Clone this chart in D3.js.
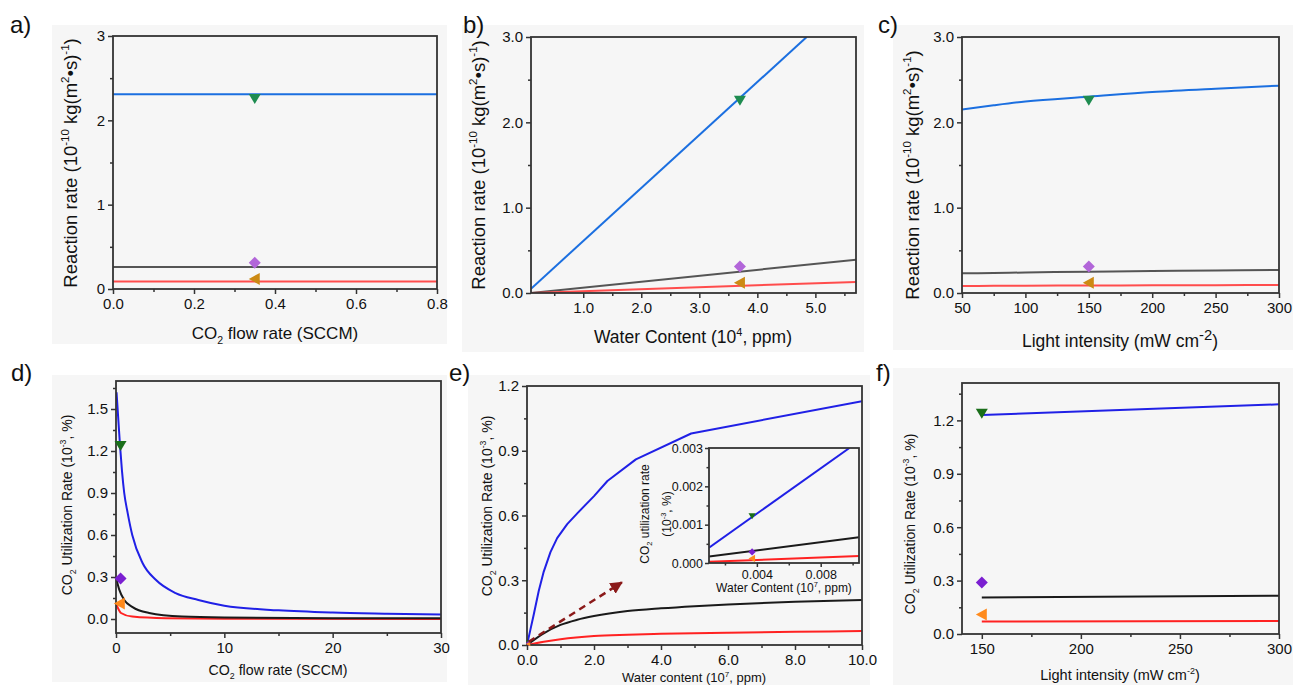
<!DOCTYPE html>
<html><head><meta charset="utf-8">
<script src="https://cdn.jsdelivr.net/npm/d3@7"></script>
<style>
body{margin:0;background:#fff;}
text{font-family:"Liberation Sans",Arial,Helvetica,sans-serif;fill:#111;}
</style>
</head><body>
<script>
// ---------------- DATA ----------------
// a) Reaction rate vs CO2 flow rate
const flowA = [0.0, 0.8];
const rateA_blue = [2.31, 2.31];
const rateA_gray = [0.26, 0.26];
const rateA_red  = [0.088, 0.088];
const expA_x = 0.35;
// experimental points (top row): [green, purple, orange]
const expRate = [2.26, 0.31, 0.12];

// b) Reaction rate vs water content (10^4 ppm)
const waterB_blue = [0.1, 4.85];
const rateB_blue  = [0.05, 3.0];
const waterB = [0.1, 5.7];
const rateB_gray = [0.0, 0.39];
const rateB_red  = [0.0, 0.13];
const expB_x = 3.7;

// c) Reaction rate vs light intensity
const lightC = [50, 75, 100, 150, 200, 250, 300];
const rateC_blue = [2.15, 2.20, 2.245, 2.30, 2.355, 2.395, 2.43];
const rateC_gray = [0.23, 0.235, 0.24, 0.25, 0.258, 0.265, 0.27];
const rateC_red  = [0.082, 0.084, 0.086, 0.088, 0.09, 0.092, 0.094];
const expC_x = 150;

// d) CO2 utilization rate vs CO2 flow rate
const flowD_blue = [0.05, 0.2, 0.37, 0.55, 0.76, 1.07, 1.5, 2.45, 3.67, 5.5, 7.6, 10, 15, 20, 25, 30];
const utilD_blue = [1.62, 1.44, 1.24, 1.06, 0.9, 0.76, 0.6, 0.4, 0.28, 0.185, 0.136, 0.095, 0.062, 0.046, 0.038, 0.032];
const flowD_black = [0.05, 0.3, 0.76, 1.53, 3.06, 6.1, 10, 20, 30];
const utilD_black = [0.28, 0.21, 0.136, 0.085, 0.043, 0.017, 0.01, 0.006, 0.005];
const flowD_red = [0.05, 0.46, 1.5, 4.6, 10, 30];
const utilD_red = [0.1, 0.043, 0.017, 0.005, 0.002, 0.0];
const expD_x = [0.42, 0.42, 0.35];
// experimental points (bottom row): [green, purple, orange]
const expUtil = [1.24, 0.29, 0.11];

// e) CO2 utilization rate vs water content (10^7 ppm)
const waterE_blue = [0, 0.1, 0.2, 0.35, 0.5, 0.7, 0.9, 1.2, 1.5, 2.0, 2.4, 3.25, 4.9, 10];
const utilE_blue  = [0, 0.07, 0.14, 0.25, 0.34, 0.43, 0.495, 0.56, 0.61, 0.69, 0.76, 0.86, 0.98, 1.13];
const waterE_black = [0, 0.5, 1, 1.5, 2, 3, 4, 5, 6, 8, 10];
const utilE_black  = [0, 0.054, 0.093, 0.117, 0.134, 0.157, 0.17, 0.18, 0.188, 0.2, 0.208];
const waterE_red = [0, 0.5, 1, 2, 3, 4, 6, 8, 10];
const utilE_red  = [0, 0.015, 0.027, 0.042, 0.048, 0.052, 0.057, 0.061, 0.065];
const arrowE = [[0.05, 0.015], [2.83, 0.29]];
// inset
const waterIn_blue = [0.001, 0.0098];
const utilIn_blue  = [0.0004, 0.003];
const waterIn = [0.001, 0.0104];
const utilIn_black = [0.00017, 0.00067];
const utilIn_red   = [0.00003, 0.00018];
const expIn_x = 0.0037;
const expIn = [0.00123, 0.00029, 0.00012];

// f) CO2 utilization rate vs light intensity
const lightF = [150, 300];
const utilF_blue  = [1.23, 1.29];
const utilF_black = [0.205, 0.215];
const utilF_red   = [0.07, 0.073];
const expF_x = 150;

// ticks
const ticksA_x = [0, 0.2, 0.4, 0.6, 0.8], minorA_x = [0.1, 0.3, 0.5, 0.7];
const ticksA_y = [0, 1, 2, 3], minorA_y = [0.5, 1.5, 2.5];
const ticksB_x = [1, 2, 3, 4, 5], minorB_x = [0.5, 1.5, 2.5, 3.5, 4.5, 5.5];
const ticksRate_y = [0, 1, 2, 3], minorRate_y = [0.5, 1.5, 2.5];
const ticksC_x = [50, 100, 150, 200, 250, 300], minorC_x = [75, 125, 175, 225, 275];
const ticksD_x = [0, 10, 20, 30], minorD_x = [5, 15, 25];
const ticksUtil_y = [0, 0.3, 0.6, 0.9, 1.2, 1.5], minorUtil_y = [0.15, 0.45, 0.75, 1.05, 1.35, 1.65];
const ticksE_x = [0, 2, 4, 6, 8, 10], minorE_x = [1, 3, 5, 7, 9];
const ticksE_y = [0, 0.3, 0.6, 0.9, 1.2], minorE_y = [0.15, 0.45, 0.75, 1.05];
const ticksIn_x = [0.004, 0.008], minorIn_x = [0.002, 0.006, 0.010];
const ticksIn_y = [0, 0.001, 0.002, 0.003], minorIn_y = [0.0005, 0.0015, 0.0025];
const ticksF_x = [150, 200, 250, 300], minorF_x = [175, 225, 275];
const ticksF_y = [0, 0.3, 0.6, 0.9, 1.2], minorF_y = [0.15, 0.45, 0.75, 1.05, 1.35];

// ---------------- DRAW ----------------
const W = 1293, H = 685;
const svg = d3.select('body').append('svg').attr('width', W).attr('height', H);
const defs = svg.append('defs');

const TOP = {blue:'#1b6fe0', gray:'#555555', red:'#ff4d4d', mg:'#1e8c50', mp:'#b266d9', mo:'#cc8a14'};
const BOT = {blue:'#2020e6', gray:'#1a1a1a', red:'#ff2222', mg:'#1a6e1a', mp:'#7b1fd1', mo:'#ff8a1c'};

// panel backgrounds
[[52,25,395,319],[462,25,402,327],[893,25,400,325],[52,375,395,307],[468,375,402,310],[893,368,400,317]]
  .forEach(r => svg.append('rect').attr('x',r[0]).attr('y',r[1]).attr('width',r[2]).attr('height',r[3]).attr('fill','#f6f6f6'));

function rich(g, parts, size, attrs) {
  const t = g.append('text').attr('font-size', size);
  Object.entries(attrs).forEach(([k,v]) => t.attr(k, v));
  let shift = 0;
  parts.forEach(p => {
    const s = p[0], k = p[1] || 'n';
    const sz = k === 'n' ? size : size * (p[2] || 0.62);
    const target = k === 'sup' ? -size * 0.42 : (k === 'sub' ? size * 0.28 : 0);
    t.append('tspan').attr('font-size', sz).attr('dy', (target - shift).toFixed(2)).text(s);
    shift = target;
  });
  return t;
}

let clipId = 0;
function panel(p) {
  const g = svg.append('g');
  const x = d3.scaleLinear().domain(p.xDomain).range([p.left, p.right]);
  const y = d3.scaleLinear().domain(p.yDomain).range([p.bottom, p.top]);
  g.append('rect').attr('x', p.left).attr('y', p.top).attr('width', p.right - p.left).attr('height', p.bottom - p.top).attr('fill', '#f6f6f6');
  const fs = p.tickFont || 15;
  const sw = p.frameW || 1.8;
  function styleAxis(sel) {
    sel.select('.domain').remove();
    sel.selectAll('line').attr('stroke', '#333').attr('stroke-width', 1.5);
    sel.selectAll('text').attr('font-size', fs).attr('fill', '#111').style('font-family', '"Liberation Sans",Arial,sans-serif');
  }
  const mt = p.majorLen || 5, mn = p.minorLen || 3;
  g.append('g').attr('transform', `translate(0,${p.bottom})`)
    .call(d3.axisBottom(x).tickValues(p.xTicks).tickFormat(p.xFmt).tickSize(mt).tickPadding(p.xPad || 4)).call(styleAxis);
  g.append('g').attr('transform', `translate(0,${p.bottom})`)
    .call(d3.axisBottom(x).tickValues(p.xMinor).tickFormat('').tickSize(mn)).call(styleAxis);
  g.append('g').attr('transform', `translate(${p.left},0)`)
    .call(d3.axisLeft(y).tickValues(p.yTicks).tickFormat(p.yFmt).tickSize(mt).tickPadding(p.yPad || 3)).call(styleAxis);
  g.append('g').attr('transform', `translate(${p.left},0)`)
    .call(d3.axisLeft(y).tickValues(p.yMinor).tickFormat('').tickSize(mn)).call(styleAxis);

  const id = 'clip' + (clipId++);
  defs.append('clipPath').attr('id', id).append('rect')
    .attr('x', p.left).attr('y', p.top).attr('width', p.right - p.left).attr('height', p.bottom - p.top);
  const lg = g.append('g').attr('clip-path', `url(#${id})`);
  p.series.forEach(s => {
    const pts = s.x.map((v, i) => [v, s.y[i]]);
    lg.append('path').datum(pts)
      .attr('d', d3.line().x(d => x(d[0])).y(d => y(d[1])).curve(s.curve || d3.curveLinear))
      .attr('fill', 'none').attr('stroke', s.color).attr('stroke-width', s.w || 2)
      .attr('stroke-linejoin', 'round');
  });
  g.append('rect').attr('x', p.left).attr('y', p.top).attr('width', p.right - p.left).attr('height', p.bottom - p.top)
    .attr('fill', 'none').attr('stroke', '#333').attr('stroke-width', sw);
  return {g, x, y};
}

function markers(P, xs, ys, col, sc) {
  sc = sc || 1;
  const shapes = [
    `M${-6*sc},${-4.5*sc} L${6*sc},${-4.5*sc} L0,${5.5*sc} Z`,
    `M0,${-6*sc} L${6*sc},0 L0,${6*sc} L${-6*sc},0 Z`,
    `M${-6*sc},0 L${5*sc},${-6*sc} L${5*sc},${6*sc} Z`
  ];
  const cols = [col.mg, col.mp, col.mo];
  ys.forEach((v, i) => {
    const xv = Array.isArray(xs) ? xs[i] : xs;
    P.g.append('path').attr('d', shapes[i]).attr('fill', cols[i])
      .attr('transform', `translate(${P.x(xv)},${P.y(v)})`);
  });
}

const f1 = d3.format('.1f'), fd = d3.format('d'), f3 = d3.format('.3f');

// ---- a ----
const A = panel({left:113, right:437, top:36, bottom:289, xDomain:[0,0.8], yDomain:[0,3],
  xTicks:ticksA_x, xMinor:minorA_x, yTicks:ticksA_y, yMinor:minorA_y, xFmt:f1, yFmt:fd,
  series:[{x:flowA, y:rateA_gray, color:TOP.gray}, {x:flowA, y:rateA_red, color:TOP.red}, {x:flowA, y:rateA_blue, color:TOP.blue}]});
markers(A, expA_x, expRate, TOP);
// ---- b ----
const B = panel({left:531, right:856, top:37, bottom:293, xDomain:[0.1,5.7], yDomain:[0,3],
  xTicks:ticksB_x, xMinor:minorB_x, yTicks:ticksRate_y, yMinor:minorRate_y, xFmt:f1, yFmt:f1,
  series:[{x:waterB, y:rateB_gray, color:TOP.gray}, {x:waterB, y:rateB_red, color:TOP.red}, {x:waterB_blue, y:rateB_blue, color:TOP.blue}]});
markers(B, expB_x, expRate, TOP);
// ---- c ----
const C = panel({left:962, right:1279, top:37, bottom:293, xDomain:[50,300], yDomain:[0,3],
  xTicks:ticksC_x, xMinor:minorC_x, yTicks:ticksRate_y, yMinor:minorRate_y, xFmt:fd, yFmt:f1,
  series:[{x:lightC, y:rateC_gray, color:TOP.gray, curve:d3.curveMonotoneX}, {x:lightC, y:rateC_red, color:TOP.red, curve:d3.curveMonotoneX}, {x:lightC, y:rateC_blue, color:TOP.blue, curve:d3.curveMonotoneX}]});
markers(C, expC_x, expRate, TOP);
// ---- d ----
const D = panel({left:116, right:441, top:381, bottom:633, xDomain:[0,30], yDomain:[-0.1,1.7],
  xTicks:ticksD_x, xMinor:minorD_x, yTicks:ticksUtil_y, yMinor:minorUtil_y, xFmt:fd, yFmt:f1,
  series:[{x:flowD_red, y:utilD_red, color:BOT.red, curve:d3.curveMonotoneX}, {x:flowD_black, y:utilD_black, color:BOT.gray, curve:d3.curveMonotoneX}, {x:flowD_blue, y:utilD_blue, color:BOT.blue, curve:d3.curveMonotoneX}]});
markers(D, expD_x, expUtil, BOT);
// ---- e ----
const E = panel({left:527, right:862, top:386, bottom:645, xDomain:[0,10], yDomain:[0,1.2],
  xTicks:ticksE_x, xMinor:minorE_x, yTicks:ticksE_y, yMinor:minorE_y, xFmt:f1, yFmt:f1,
  series:[{x:waterE_red, y:utilE_red, color:BOT.red, curve:d3.curveMonotoneX}, {x:waterE_black, y:utilE_black, color:BOT.gray, curve:d3.curveMonotoneX}, {x:waterE_blue, y:utilE_blue, color:BOT.blue}]});
// tiny markers at origin
markers(E, [0.04, 0.04, 0.04], [0.012, 0.008, 0.005], BOT, 0.4);
// dashed arrow
defs.append('marker').attr('id', 'ah').attr('viewBox', '0 0 10 10').attr('refX', 9).attr('refY', 5)
  .attr('markerWidth', 5).attr('markerHeight', 5).attr('orient', 'auto-start-reverse')
  .append('path').attr('d', 'M0,0 L10,5 L0,10 Z').attr('fill', '#8b1a1a');
E.g.append('line').attr('x1', E.x(arrowE[0][0])).attr('y1', E.y(arrowE[0][1]))
  .attr('x2', E.x(arrowE[1][0])).attr('y2', E.y(arrowE[1][1]))
  .attr('stroke', '#8b1a1a').attr('stroke-width', 2.5).attr('stroke-dasharray', '7,5')
  .attr('marker-end', 'url(#ah)');
// inset
const IN = panel({left:709, right:859, top:448, bottom:563, xDomain:[0.001,0.0104], yDomain:[0,0.003],
  xTicks:ticksIn_x, xMinor:minorIn_x, yTicks:ticksIn_y, yMinor:minorIn_y, xFmt:f3, yFmt:f3, tickFont:12.5,
  majorLen:4, minorLen:2.5, xPad:3, yPad:2,
  series:[{x:waterIn, y:utilIn_red, color:BOT.red}, {x:waterIn, y:utilIn_black, color:BOT.gray}, {x:waterIn_blue, y:utilIn_blue, color:BOT.blue}]});
markers(IN, expIn_x, expIn, BOT, 0.6);
// ---- f ----
const F = panel({left:962, right:1279, top:383, bottom:634, xDomain:[140,300], yDomain:[0,1.41],
  xTicks:ticksF_x, xMinor:minorF_x, yTicks:ticksF_y, yMinor:minorF_y, xFmt:fd, yFmt:f1,
  series:[{x:lightF, y:utilF_red, color:BOT.red}, {x:lightF, y:utilF_black, color:BOT.gray}, {x:lightF, y:utilF_blue, color:BOT.blue}]});
markers(F, expF_x, expUtil, BOT);

// ---------------- TITLES ----------------
const T = svg.append('g');
// panel labels
[['a)',10,33],['b)',463,33],['c)',878,33],['d)',11,381],['e)',449,381],['f)',876,381]].forEach(l =>
  T.append('text').attr('x', l[1]).attr('y', l[2]).attr('font-size', 24).text(l[0]));

// top row x titles
rich(T, [['CO'],['2','sub'],[' flow rate (SCCM)']], 17, {x:275, y:339, 'text-anchor':'middle'});
rich(T, [['Water Content (10'],['4','sup'],[', ppm)']], 17.5, {x:693, y:343, 'text-anchor':'middle'});
rich(T, [['Light intensity (mW cm'],['-2','sup',0.85],[')']], 17.5, {x:1120, y:347, 'text-anchor':'middle'});
// top row y titles
const rrParts = [['Reaction rate (10'],['-10','sup'],[' kg(m'],['2','sup'],['\u2022s)'],['-1','sup'],[')']];
rich(T, rrParts, 18.5, {transform:'translate(77,163) rotate(-90)', 'text-anchor':'middle'});
rich(T, rrParts, 18.5, {transform:'translate(485,165) rotate(-90)', 'text-anchor':'middle'});
rich(T, rrParts, 18.5, {transform:'translate(919,175) rotate(-90)', 'text-anchor':'middle'});

// bottom row x titles
rich(T, [['CO'],['2','sub'],[' flow rate (SCCM)']], 14.2, {x:278, y:675, 'text-anchor':'middle'});
rich(T, [['Water content (10'],['7','sup'],[', ppm)']], 13, {x:694, y:682, 'text-anchor':'middle'});
rich(T, [['Light intensity (mW cm'],['-2','sup'],[')']], 14.5, {x:1120, y:680, 'text-anchor':'middle'});
// bottom row y titles
const urParts = [['CO'],['2','sub'],[' Utilization Rate (10'],['-3','sup'],[', %)']];
rich(T, urParts, 14, {transform:'translate(72,505) rotate(-90)', 'text-anchor':'middle'});
rich(T, urParts, 14, {transform:'translate(492,506) rotate(-90)', 'text-anchor':'middle'});
rich(T, urParts, 14, {transform:'translate(915,524) rotate(-90)', 'text-anchor':'middle'});

// inset titles
rich(T, [['Water Content (10'],['7','sup'],[', ppm)']], 12, {x:784, y:592, 'text-anchor':'middle'});
rich(T, [['CO'],['2','sub'],[' utilization rate']], 12, {transform:'translate(649,514) rotate(-90)', 'text-anchor':'middle'});
rich(T, [['(10'],['-3','sup'],[', %)']], 12, {transform:'translate(671,514) rotate(-90)', 'text-anchor':'middle'});
</script>
</body></html>
